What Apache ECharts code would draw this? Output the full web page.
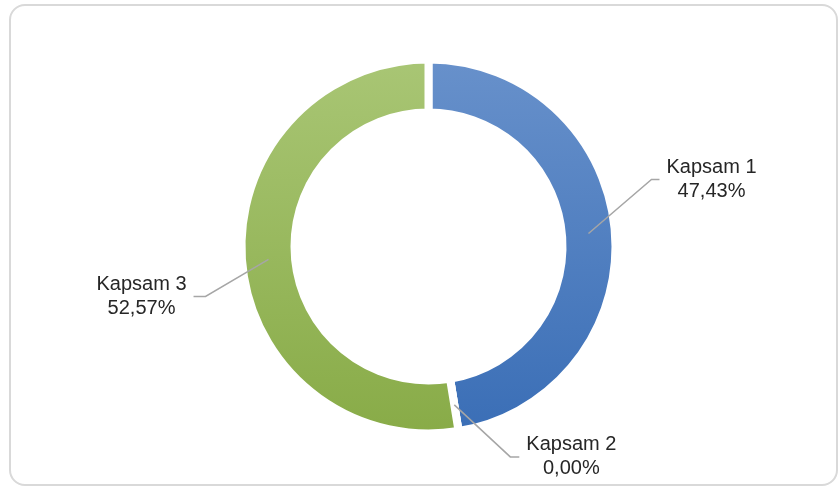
<!DOCTYPE html>
<html>
<head>
<meta charset="utf-8">
<script src="https://cdn.jsdelivr.net/npm/echarts@6/dist/echarts.min.js"></script>
<style>
  html, body { margin: 0; padding: 0; background: #fff; }
  #chart { width: 840px; height: 489px; }
</style>
</head>
<body>
<div id="chart"></div>
<script>
var names = ['Kapsam 1', 'Kapsam 2', 'Kapsam 3'];
var values = [47.43, 0.00, 52.57];

// label line bends: [dx, dy] of the elbow from the ring point, then horizontal run
var elbows = [[63, -54, 8], [56, 52, 9], [-63, 37, -12]];

var CX = 428.5, CY = 246.5, R_IN = 138, R_OUT = 183, GAP = 8;

var colors = [
  new echarts.graphic.LinearGradient(0, 0, 0, 1, [
    { offset: 0, color: '#6891cb' },
    { offset: 1, color: '#3a6eb6' }
  ]),
  '#7f7f7f',
  new echarts.graphic.LinearGradient(0, 0, 0, 1, [
    { offset: 0, color: '#a9c675' },
    { offset: 1, color: '#88ab47' }
  ])
];

var total = values.reduce(function (a, b) { return a + b; }, 0);

function ringPoint(i) {
  var before = 0;
  for (var k = 0; k < i; k++) before += values[k];
  var frac = (before + values[i] / 2) / total;
  var ang = frac * Math.PI * 2;
  var rm = (R_IN + R_OUT) / 2;
  return [CX + rm * Math.sin(ang), CY - rm * Math.cos(ang)];
}

var chart = echarts.init(document.getElementById('chart'));

var base = {
  type: 'pie',
  center: [CX, CY],
  radius: [R_IN - GAP / 2, R_OUT + GAP / 2],
  startAngle: 90,
  clockwise: true,
  avoidLabelOverlap: false,
  minShowLabelAngle: 0
};

var option = {
  animation: false,
  graphic: [{
    type: 'rect',
    shape: { x: 10, y: 5, width: 827, height: 480, r: 15 },
    style: { fill: 'none', stroke: '#d9d9d9', lineWidth: 2 },
    z: -10
  }],
  series: [
    Object.assign({}, base, {
      z: 2,
      silent: true,
      itemStyle: { borderColor: '#fff', borderWidth: GAP },
      label: { show: false },
      labelLine: { show: false },
      data: names.map(function (n, i) {
        return { name: n, value: values[i], itemStyle: { color: colors[i] } };
      })
    }),
    // invisible copy on top so the label lines are drawn over the ring
    Object.assign({}, base, {
      z: 5,
      silent: true,
      itemStyle: { color: 'rgba(0,0,0,0)', borderWidth: 0 },
      label: {
        show: true,
        position: 'outside',
        fontFamily: 'Liberation Sans, Arial, sans-serif',
        fontSize: 20,
        lineHeight: 24,
        color: '#262626',
        align: 'center',
        formatter: function (p) {
          return p.name + '\n' + p.value.toFixed(2).replace('.', ',') + '%';
        }
      },
      labelLine: {
        show: true,
        lineStyle: { color: '#a6a6a6', width: 1.5 }
      },
      labelLayout: function (params) {
        var i = params.dataIndex;
        var p0 = ringPoint(i);
        var e = elbows[i];
        var p1 = [p0[0] + e[0], p0[1] + e[1]];
        var p2 = [p1[0] + e[2], p1[1]];
        var w = params.labelRect.width;
        var dir = e[2] > 0 ? 1 : -1;
        return {
          x: p2[0] + dir * (7 + w / 2),
          y: p2[1],
          align: 'center',
          verticalAlign: 'middle',
          labelLinePoints: [p0, p1, p2]
        };
      },
      data: names.map(function (n, i) {
        return { name: n, value: values[i] };
      })
    })
  ]
};

chart.setOption(option);
</script>
</body>
</html>
